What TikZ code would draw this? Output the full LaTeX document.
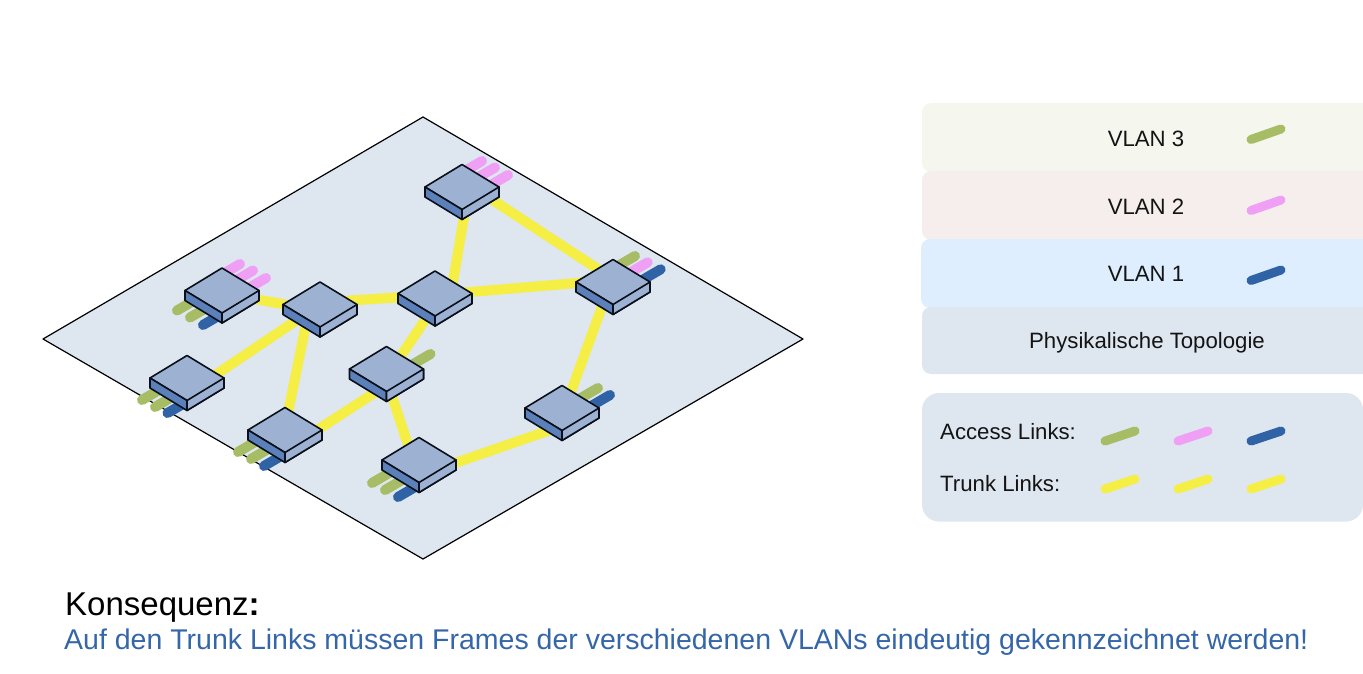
\documentclass[tikz,border=0pt]{standalone}
\usepackage{fontspec}
\setmainfont{Liberation Sans}
\usetikzlibrary{calc}
\definecolor{plate}{HTML}{DEE6EF}
\definecolor{rowc}{HTML}{F5F6EE}
\definecolor{rowb}{HTML}{F5EEEC}
\definecolor{rowa}{HTML}{DEEEFE}
\definecolor{vgreen}{HTML}{A6BC65}
\definecolor{vpink}{HTML}{EFA0F5}
\definecolor{vblue}{HTML}{2F63A6}
\definecolor{vyellow}{HTML}{F5EE44}
\definecolor{swtop}{HTML}{9DB2D2}
\definecolor{swleft}{HTML}{5B80BA}
\definecolor{swink}{HTML}{0A0F1A}
\definecolor{txtblue}{HTML}{3566A8}
\tikzset{
  x=1pt,y=-1pt,
  trunk/.style={draw=vyellow,line width=10pt},
  stub/.style={line width=10pt,line cap=round},
  legstub/.style={line width=9pt,line cap=round},
  lab/.style={font=\fontsize{22.2}{26}\selectfont,inner sep=0pt,text=black!92},
  legrow/.style={rounded corners=9pt},
  swedge/.style={draw=swink,line width=1.6pt,line join=round},
  pics/switchbox/.style={code={
    \draw[swedge,fill=swtop] (0,-22.5) -- (37,0) -- (37,10) -- (0,32.5) -- (0,22.5) -- (-37,0) -- (0,-22.5) -- cycle;
    \draw[swedge,fill=swleft] (-37,0) -- (0,22.5) -- (0,32.5) -- (-37,10) -- cycle;
    \draw[swedge,fill=swtop] (37,0) -- (0,22.5) -- (0,32.5) -- (37,10) -- cycle;
  }}
}
\newcommand\stubdl[4]{\draw[stub,draw=#4] ([shift={(#2,#3)}]#1.center) -- ++(24,-14);}
\newcommand\stubur[4]{\draw[stub,draw=#4] ([shift={(#2,#3)}]#1.center) -- ++(-24,14);}
\newcommand\tlink[6]{\draw[trunk] ([shift={(#2,#3)}]#1.center) -- ([shift={(#5,#6)}]#4.center);}
\begin{document}
\begin{tikzpicture}
\useasboundingbox (0,0) rectangle (1363,674);
\clip (0,0) rectangle (1363,674);
% switch positions
\coordinate (s1) at (222,290.5);
\coordinate (s2) at (320,304.5);
\coordinate (s3) at (435,293.5);
\coordinate (s4) at (462,187);
\coordinate (s5) at (613,282);
\coordinate (s6) at (187,378);
\coordinate (s7) at (285,430);
\coordinate (s8) at (386.5,369);
\coordinate (s9) at (419,460);
\coordinate (s10) at (562,408);
% plate
\node[coordinate] (pt) at (423,117) {};
\node[coordinate] (pr) at (803,339) {};
\node[coordinate] (pb) at (423,559) {};
\node[coordinate] (pl) at (43,339) {};
\draw[fill=plate,draw=black,line width=1.2pt,line join=round] (pt) -- (pr) -- (pb) -- (pl) -- cycle;
% trunk links
\tlink{s1}{0}{2.5}{s2}{0}{6.5}
\tlink{s2}{0}{-2}{s3}{0}{1.5}
\tlink{s3}{0}{1.5}{s5}{0}{-2}
\tlink{s4}{0}{-7}{s5}{0}{-3}
\tlink{s3}{16}{0}{s4}{7}{0}
\tlink{s5}{-2}{0}{s10}{3}{0}
\tlink{s10}{0}{18}{s9}{0}{15.5}
\tlink{s8}{-3.5}{0}{s9}{-6}{0}
\tlink{s8}{0}{16}{s7}{0}{21}
\tlink{s8}{5.5}{0}{s3}{8}{0}
\tlink{s7}{-0.5}{0}{s2}{-10}{0}
\tlink{s6}{0}{16}{s2}{0}{0}
% access stubs
\stubur{s1}{18}{-26.5}{vpink}
\stubur{s1}{31}{-20}{vpink}
\stubur{s1}{44}{-12.5}{vpink}
\stubdl{s1}{-45}{20}{vgreen}
\stubdl{s1}{-32}{27}{vgreen}
\stubdl{s1}{-19}{34.5}{vblue}
\stubdl{s6}{-45}{22}{vgreen}
\stubdl{s6}{-32}{29}{vgreen}
\stubdl{s6}{-19.5}{35}{vblue}
\stubur{s4}{20}{-26}{vpink}
\stubur{s4}{33}{-19.5}{vpink}
\stubur{s4}{46}{-12}{vpink}
\stubur{s5}{22}{-26}{vgreen}
\stubur{s5}{34.7}{-19.7}{vpink}
\stubur{s5}{47.7}{-12.7}{vblue}
\stubdl{s7}{-47}{22}{vgreen}
\stubdl{s7}{-34}{29}{vgreen}
\stubdl{s7}{-21}{36}{vblue}
\stubdl{s9}{-47}{23}{vgreen}
\stubdl{s9}{-34}{30}{vgreen}
\stubdl{s9}{-21}{37}{vblue}
\stubur{s8}{44}{-15}{vgreen}
\stubur{s10}{36}{-20}{vgreen}
\stubur{s10}{48}{-13}{vblue}
% switches
\foreach \s in {s1,s2,s3,s4,s5,s6,s7,s8,s9,s10} \pic at (\s) {switchbox};
% legend
\fill[rowc,legrow] (922,103) rectangle (1400,172);
\fill[rowb,legrow] (922,171) rectangle (1400,240);
\fill[rowa,legrow] (921,239) rectangle (1400,308);
\fill[plate,legrow] (922,307) rectangle (1400,374);
\fill[plate,rounded corners=17pt] (922,393) rectangle (1363,521.5);
\node[lab] (v3) at (1146,138.5) {VLAN 3};
\node[lab] (v2) at (1146,206.5) {VLAN 2};
\node[lab] (v1) at (1146,274) {VLAN 1};
\node[lab] (pt2) at (1147,343) {Physikalische Topologie};
\node[lab,anchor=west] (al) at (940,432) {Access Links:};
\node[lab,anchor=west] (tl) at (940,484) {Trunk Links:};
\draw[legstub,vgreen] (1251,139.5) -- (1281,129);
\draw[legstub,vpink] (1251,210.5) -- (1281,200);
\draw[legstub,vblue] (1251,280.5) -- (1281,270);
\draw[legstub,vgreen] (1105,441) -- (1135,431);
\draw[legstub,vpink] (1178,441) -- (1208,431);
\draw[legstub,vblue] (1251,441) -- (1281,431);
\draw[legstub,vyellow] (1105,489) -- (1135,479);
\draw[legstub,vyellow] (1178,489) -- (1208,479);
\draw[legstub,vyellow] (1251,489) -- (1281,479);
% text
\node[anchor=base west,inner sep=0pt,font=\fontsize{33}{38}\selectfont,text=black] (k) at (65,615) {Konsequenz\textbf{:}};
\node[anchor=base west,inner sep=0pt,font=\fontsize{28.5}{32}\selectfont,text=txtblue] (f) at (64,649) {Auf den Trunk Links müssen Frames der verschiedenen VLANs eindeutig gekennzeichnet werden!};
\end{tikzpicture}
\end{document}
